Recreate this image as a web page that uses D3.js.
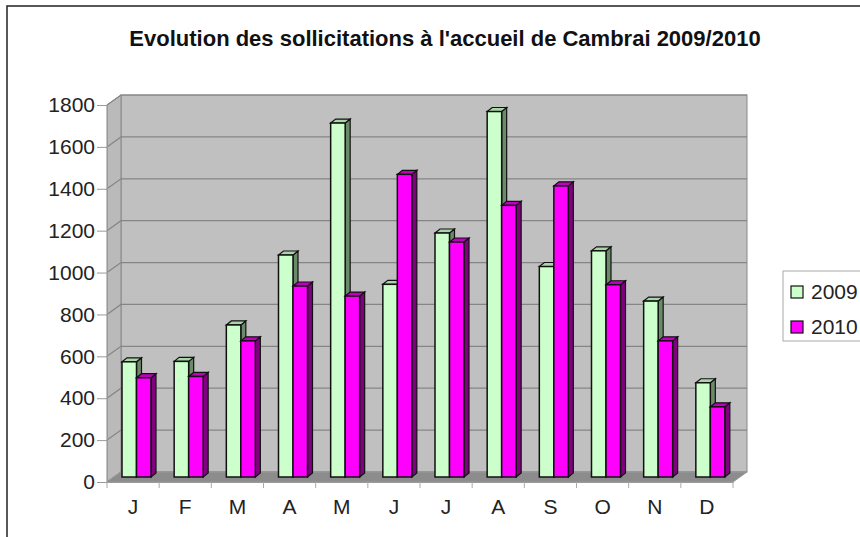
<!DOCTYPE html>
<html>
<head>
<meta charset="utf-8">
<script src="https://cdn.jsdelivr.net/npm/d3@7"></script>
<style>
body { margin:0; background:#fff; }
text { font-family: "Liberation Sans", Arial, sans-serif; }
</style>
</head>
<body>
<svg id="chart" width="860" height="537"></svg>
<script>
// chart data
var months = ["J","F","M","A","M","J","J","A","S","O","N","D"];
var series = ["2009","2010"];
var v2009 = [550, 552, 726, 1060, 1690, 920, 1165, 1745, 1005, 1080, 840, 450];
var v2010 = [474, 480, 650, 912, 864, 1445, 1122, 1297, 1390, 918, 650, 335];
var yTicks = [0,200,400,600,800,1000,1200,1400,1600,1800];

var svg = d3.select('#chart');

// depth of the 3d box
var depthX = 14, depthY = -10;

var x = d3.scaleBand()
		.domain(d3.range(months.length))
		.range([107,733]);

var y = d3.scaleLinear()
		.domain([0,1800])
		.range([482,105]);

var x1 = d3.scaleBand()
		.domain(series)
		.range([8,37]);

var fills = {"2009":"#ccffcc","2010":"#ff00ff"};
var sides = {"2009":"#6a8a6a","2010":"#800080"};
var tops = {"2009":"#a9d6a9","2010":"#c000c0"};

// outer frame
svg.append("rect")
	.attr("x",7).attr("y",6).attr("width",900).attr("height",600)
	.attr("fill","none").attr("stroke","#222").attr("stroke-width",1.5);

svg.append("text")
	.attr("x",445).attr("y",46)
	.attr("text-anchor","middle")
	.attr("font-size",22).attr("font-weight","bold")
	.attr("fill","#111")
	.text("Evolution des sollicitations à l'accueil de Cambrai 2009/2010");

var x0 = x.range()[0], xN = x.range()[1];

// back wall
svg.append("rect")
	.attr("x",x0+depthX).attr("y",y(1800)+depthY)
	.attr("width",xN-x0).attr("height",y(0)-y(1800))
	.attr("fill","#c0c0c0").attr("stroke","#888");

// side wall
svg.append("polygon")
	.attr("points",[[x0,y(0)],[x0+depthX,y(0)+depthY],[x0+depthX,y(1800)+depthY],[x0,y(1800)]].join(" "))
	.attr("fill","#bababa").attr("stroke","#888");

// gridlines
yTicks.forEach(function(t){
	svg.append("polyline")
		.attr("points",[[x0,y(t)],[x0+depthX,y(t)+depthY],[xN+depthX,y(t)+depthY]].join(" "))
		.attr("fill","none").attr("stroke","#858585").attr("stroke-width",1.2);
});

// floor
svg.append("polygon")
	.attr("points",[[x0,y(0)],[xN,y(0)],[xN+depthX,y(0)+depthY],[x0+depthX,y(0)+depthY]].join(" "))
	.attr("fill","#8c8c8c").attr("stroke","#999");

// axes
var yAxis = svg.append("g")
	.attr("transform","translate(" + x0 + ",0)")
	.call(d3.axisLeft(y).tickValues(yTicks).tickFormat(d3.format("d")).tickSize(10).tickPadding(2));
yAxis.select(".domain").attr("stroke","#999");
yAxis.selectAll(".tick line").attr("stroke","#999");
yAxis.selectAll("text").attr("font-size",21).attr("fill","#222")
	.attr("font-family","Liberation Sans, Arial, sans-serif");

var xAxis = svg.append("g")
	.attr("transform","translate(0," + y(0) + ")")
	.call(d3.axisBottom(x).tickFormat(function(i){ return months[i]; }).tickSize(0).tickPadding(17));
xAxis.select(".domain").attr("stroke","#999");
xAxis.selectAll("text").attr("font-size",21).attr("fill","#222")
	.attr("font-family","Liberation Sans, Arial, sans-serif");

// small ticks at band edges
svg.selectAll(".xtick")
	.data(d3.range(months.length+1))
	.enter().append("line")
	.attr("x1",function(i){ return x0 + i*x.step(); })
	.attr("x2",function(i){ return x0 + i*x.step(); })
	.attr("y1",y(0)).attr("y2",y(0)+6)
	.attr("stroke","#aaa");

// bars
var bars = [];
months.forEach(function(m,i){
	bars.push({i:i, s:"2009", v:v2009[i]});
	bars.push({i:i, s:"2010", v:v2010[i]});
});

var bdx = 5, bdy = -4;   // bar depth
var off = 7, offY = -5;  // bar placed at mid depth
var bw = x1.bandwidth();

var g = svg.selectAll(".bar")
	.data(bars)
	.enter().append("g");

g.each(function(d){
	var sel = d3.select(this);
	var bx = x(d.i) + x1(d.s) + off;
	var top = y(d.v) + offY, bot = y(0) + offY;
	sel.append("polygon")
		.attr("points",[[bx+bw,top],[bx+bw+bdx,top+bdy],[bx+bw+bdx,bot+bdy],[bx+bw,bot]].join(" "))
		.attr("fill",sides[d.s]).attr("stroke","#111").attr("stroke-width",1.2);
	sel.append("polygon")
		.attr("points",[[bx,top],[bx+bdx,top+bdy],[bx+bw+bdx,top+bdy],[bx+bw,top]].join(" "))
		.attr("fill",tops[d.s]).attr("stroke","#111").attr("stroke-width",1.2);
	sel.append("rect")
		.attr("x",bx).attr("y",top)
		.attr("width",bw).attr("height",bot-top)
		.attr("fill",fills[d.s]).attr("stroke","#111").attr("stroke-width",1.5);
});

// legend
svg.append("rect")
	.attr("x",783).attr("y",271).attr("width",120).attr("height",70)
	.attr("fill","#fff").attr("stroke","#aaa");

var leg = svg.selectAll(".leg")
	.data(series)
	.enter().append("g")
	.attr("transform",function(d,i){ return "translate(791," + (286 + i*35) + ")"; });
leg.append("rect")
	.attr("width",12).attr("height",12)
	.attr("fill",function(d){ return fills[d]; })
	.attr("stroke","#111").attr("stroke-width",1.2);
leg.append("text")
	.attr("x",20).attr("y",13)
	.attr("font-size",21).attr("fill","#222")
	.text(function(d){ return d; });
</script>
</body>
</html>
